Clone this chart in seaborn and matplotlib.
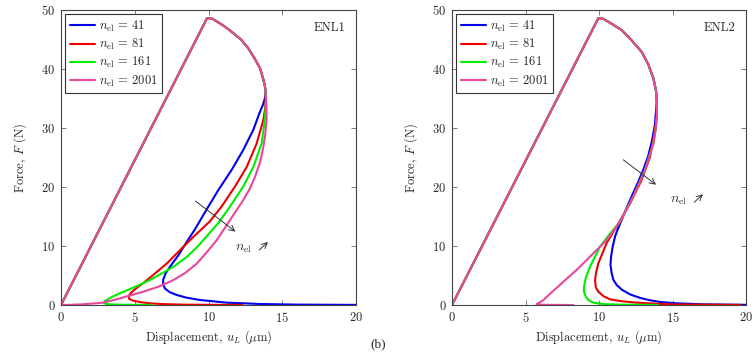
"""
Force-displacement curves, ENL1 and ENL2, for four mesh sizes
"""
import numpy as np
import pandas as pd
import seaborn as sns
import matplotlib
matplotlib.use("Agg")
import matplotlib.pyplot as plt

# --- DATA ---
mesh_labels = ["41", "81", "161", "2001"]
colors = ["#0000ee", "#ee0000", "#00ee00", "#e8479b"]

# shared elastic branch + top of the softening arc
enl1_head_u = [0.0, 9.9, 10.2, 10.6, 11.1, 11.57, 12.2, 12.7, 13.1, 13.5, 13.72, 13.83, 13.87]
enl1_head_f = [0.0, 48.6, 48.6, 48.0, 47.2, 46.3, 45.0, 43.5, 41.9, 40.1, 38.2, 37.0, 36.0]

enl1_u_41 = [13.82, 13.7, 13.45, 13.04, 12.7, 12.36, 11.57, 10.67, 9.85, 9.05, 8.6, 7.95, 7.45, 7.1, 6.93, 6.92,
             7.05, 7.35, 7.84, 8.5, 9.42, 11.23, 13.5, 16.0, 20.0]
enl1_f_41 = [35.0, 34.0, 32.5, 29.7, 28.0, 26.3, 22.9, 19.5, 16.1, 12.7, 11.0, 8.4, 6.7, 5.4, 4.3, 3.5,
             2.8, 2.2, 1.7, 1.25, 0.85, 0.4, 0.17, 0.07, 0.02]

enl1_u_81 = [13.88, 13.85, 13.72, 13.27, 12.59, 11.8, 10.89, 10.1, 9.42, 8.75, 7.95, 7.2, 6.4, 5.6, 5.1, 4.75, 4.58,
             4.62, 4.9, 5.4, 6.03, 7.0, 8.29, 10.5, 12.3]
enl1_f_81 = [35.0, 33.5, 31.4, 27.4, 23.4, 20.1, 16.7, 14.2, 12.6, 11.0, 9.0, 7.1, 5.4, 3.75, 2.85, 2.1, 1.5,
             1.05, 0.73, 0.48, 0.28, 0.15, 0.06, 0.03, 0.02]

enl1_u_161 = [13.9, 13.88, 13.8, 13.6, 13.04, 12.36, 11.46, 10.7, 10.0, 9.3, 8.55, 7.7, 6.8, 6.0, 5.0, 4.0, 3.4, 2.98,
              2.9, 3.1, 3.8, 4.8, 6.15]
enl1_f_161 = [35.0, 33.5, 31.0, 27.4, 23.4, 20.1, 16.7, 14.0, 12.0, 10.0, 8.2, 6.6, 5.3, 4.2, 3.05, 2.0, 1.3, 0.68,
              0.35, 0.15, 0.06, 0.03, 0.02]

enl1_u_2001 = [13.92, 13.94, 13.85, 13.72, 13.5, 13.15, 12.8, 12.36, 11.46, 10.56, 9.9, 9.2, 8.4, 7.6, 6.6, 5.58,
               4.0, 2.87, 1.5, 0.6, 0.0]
enl1_f_2001 = [34.0, 31.4, 29.0, 26.8, 24.2, 21.7, 19.7, 17.8, 14.4, 11.0, 9.0, 7.0, 5.4, 4.2, 3.1, 2.26,
               1.13, 0.4, 0.12, 0.03, 0.0]

enl2_head_u = [0.0, 9.95, 10.3, 10.9, 11.54, 12.2, 12.9, 13.35, 13.7, 13.88, 13.93]
enl2_head_f = [0.0, 48.6, 48.5, 47.6, 46.6, 44.9, 42.9, 40.8, 38.4, 36.3, 34.5]

enl2_u_41 = [13.88, 13.8, 13.6, 13.35, 13.01, 12.62, 12.22, 11.85, 11.54, 11.28, 11.09, 10.93, 10.82, 10.78,
             10.86, 10.97, 11.2, 11.55, 12.11, 12.8, 13.47, 14.2, 15.2, 17.0, 20.0]
enl2_f_41 = [33.0, 30.5, 27.8, 25.3, 22.9, 20.6, 18.4, 16.3, 14.4, 12.9, 11.6, 9.9, 8.2, 6.8,
             5.4, 4.3, 3.4, 2.6, 1.8, 1.2, 0.8, 0.5, 0.3, 0.12, 0.03]

enl2_u_81 = [13.93, 13.81, 13.47, 12.9, 12.11, 11.31, 10.52, 9.95, 9.8, 9.73, 9.78, 9.95, 10.3, 10.75, 11.5, 12.56,
             14.83, 17.0, 19.6]
enl2_f_81 = [32.0, 29.7, 25.1, 21.2, 17.2, 13.8, 10.5, 7.06, 5.5, 4.2, 3.0, 2.26, 1.5, 0.96, 0.65, 0.4,
             0.1, 0.05, 0.02]

enl2_u_161 = [13.94, 13.85, 13.7, 13.13, 12.33, 11.43, 10.75, 10.07, 9.39, 9.1, 8.98, 8.97, 9.1, 9.3, 9.61,
              10.3, 11.5, 14.0]
enl2_f_161 = [32.0, 29.7, 27.4, 22.9, 18.4, 14.1, 12.1, 9.9, 6.5, 4.6, 3.1, 2.3, 1.4, 0.8, 0.4,
              0.15, 0.06, 0.02]

enl2_u_2001 = [13.94, 13.85, 13.7, 13.13, 12.33, 11.43, 10.52, 9.39, 8.5, 7.6, 6.8, 6.2, 5.9, 5.75, 5.8, 6.3, 8.25]
enl2_f_2001 = [32.0, 29.7, 27.4, 22.9, 18.4, 14.1, 11.0, 8.2, 6.0, 4.0, 2.2, 0.8, 0.35, 0.15, 0.1, 0.03, 0.0]

panels = [
    ("ENL1", enl1_head_u, enl1_head_f,
     [(enl1_u_41, enl1_f_41), (enl1_u_81, enl1_f_81), (enl1_u_161, enl1_f_161), (enl1_u_2001, enl1_f_2001)],
     ((8.97, 17.9), (11.98, 12.15)), (11.8, 9.6), ((13.3, 9.0), (14.17, 11.0))),
    ("ENL2", enl2_head_u, enl2_head_f,
     [(enl2_u_41, enl2_f_41), (enl2_u_81, enl2_f_81), (enl2_u_161, enl2_f_161), (enl2_u_2001, enl2_f_2001)],
     ((11.5, 24.9), (14.03, 20.1)), (14.85, 17.6), ((16.35, 17.1), (17.2, 19.1))),
]

# --- STYLE ---
sns.set_style("ticks")
plt.rcParams["font.family"] = ["cmr10", "DejaVu Serif"]
plt.rcParams["mathtext.fontset"] = "cm"
plt.rcParams["axes.formatter.use_mathtext"] = True
plt.rcParams["axes.edgecolor"] = "#444444"
plt.rcParams["axes.linewidth"] = 0.8

fig = plt.figure(figsize=(7.56, 3.52), dpi=100)
ax_pos = [[0.0807, 0.1335, 0.3902, 0.8381], [0.5979, 0.1335, 0.3889, 0.8381]]

for pos, (name, hu, hf, curves, arr, txt, small) in zip(ax_pos, panels):
    ax = fig.add_axes(pos)
    for lab, col, (cu, cf) in zip(mesh_labels, colors, curves):
        df = pd.DataFrame({"u": hu + cu, "F": hf + cf})
        sns.lineplot(data=df, x="u", y="F", sort=False, estimator=None,
                     color=col, lw=1.5, ax=ax, label=r"$n_{\rm el}$ = " + lab)

    ax.set_xlim(0, 20)
    ax.set_ylim(0, 50)
    ax.set_xticks([0, 5, 10, 15, 20])
    ax.set_yticks([0, 10, 20, 30, 40, 50])
    ax.tick_params(direction="in", top=True, right=True, length=3.5,
                   width=0.6, color="#666666", labelsize=9, pad=4)
    ax.set_xlabel(r"Displacement, $u_L$ ($\mu$m)", fontsize=9, labelpad=3)
    ax.set_ylabel(r"Force, $F$ (N)", fontsize=9, labelpad=9)

    ax.text(0.965, 0.94, name, transform=ax.transAxes, ha="right", va="center", fontsize=9)

    ax.annotate("", xy=arr[1], xytext=arr[0],
                arrowprops=dict(arrowstyle="->", color="#333333", lw=0.7))
    ax.text(txt[0], txt[1], r"$n_{\rm el}$", fontsize=10, color="#333333", ha="left", va="center")
    ax.annotate("", xy=small[1], xytext=small[0],
                arrowprops=dict(arrowstyle="->", color="#333333", lw=0.7))

    leg = ax.legend(loc="upper left", fontsize=9, frameon=True, fancybox=False,
                    framealpha=1, edgecolor="#333333", borderaxespad=0.35,
                    handlelength=2.0, handletextpad=0.35, labelspacing=0.25,
                    borderpad=0.35)
    leg.get_frame().set_linewidth(0.8)

fig.text(0.5, 0.005, "(b)", ha="center", va="bottom", fontsize=9.5, family="Liberation Serif")

plt.savefig("out.png", dpi=100)
